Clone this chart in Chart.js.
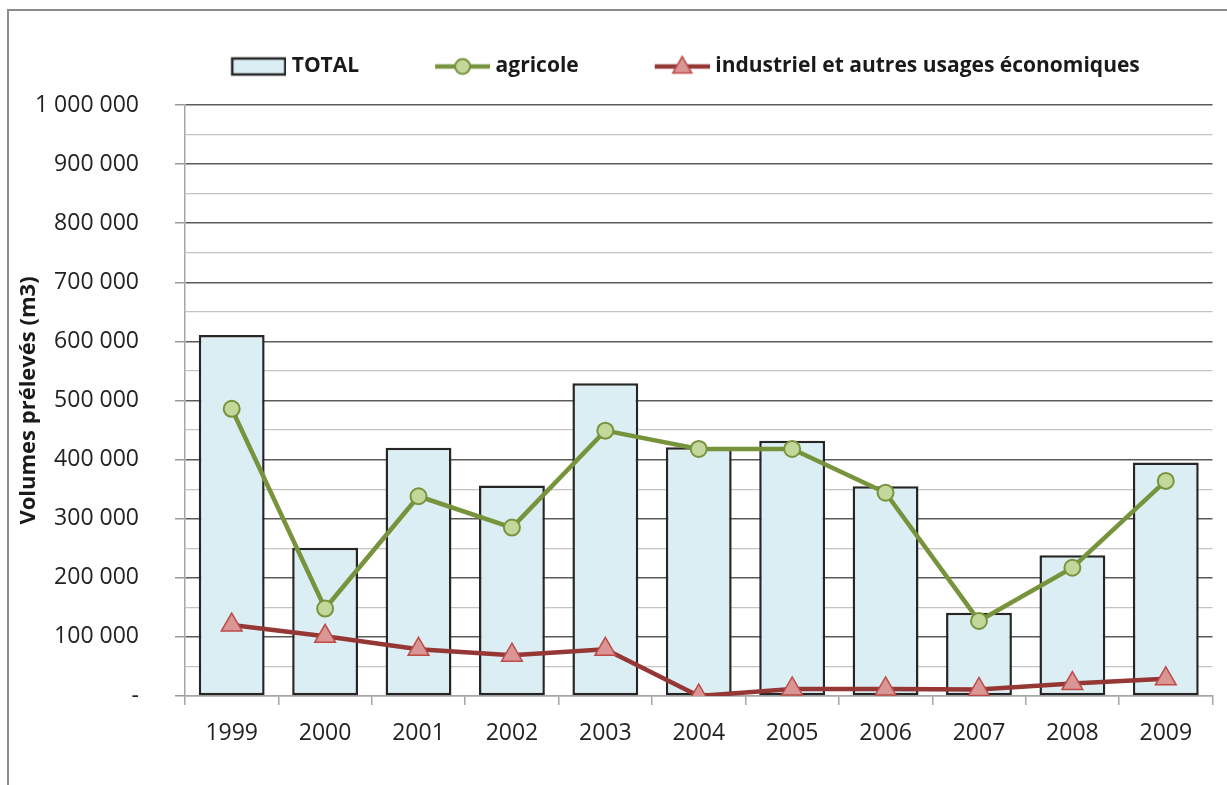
<!DOCTYPE html>
<html>
<head>
<meta charset="utf-8">
<script src="https://cdn.jsdelivr.net/npm/chart.js@4.4.1/dist/chart.umd.min.js"></script>
<style>
  html, body { margin: 0; padding: 0; background: #ffffff; overflow: hidden; width: 1227px; height: 785px; }
  #frame { position: absolute; left: 7px; top: 9px; width: 1400px; height: 900px;
           border-left: 2px solid #8c8c8c; border-top: 2px solid #8c8c8c; }
  #c { display: block; }
</style>
</head>
<body>
<div id="frame"><canvas id="c" width="1217" height="774"></canvas></div>
<script>
// ---- data ----
const categories = ['1999', '2000', '2001', '2002', '2003', '2004', '2005', '2006', '2007', '2008', '2009'];
const totalValues = [611000, 251000, 420000, 356000, 529000, 421000, 432000, 355000, 141000, 238000, 395000];
const agricoleValues = [486000, 148000, 338000, 285000, 449000, 418000, 418000, 344000, 127000, 217000, 364000];
const industrielValues = [120000, 101000, 79000, 69000, 79000, 0, 12000, 12000, 11000, 21000, 29000];
const seriesLabels = ['TOTAL', 'agricole', 'industriel et autres usages économiques'];
const yTickLabels = ['-', '100 000', '200 000', '300 000', '400 000', '500 000', '600 000', '700 000', '800 000', '900 000', '1 000 000'];
const yAxisTitle = 'Volumes prélevés (m3)';

// ---- styles ----
const FONT = "'Open Sans', 'Liberation Sans', sans-serif";
const barFill = '#dbeef4', barBorder = '#262626';
const agriLine = '#77933c', agriFill = '#c4d79b';
const indLine = '#953735', indFill = '#d99694', indBorder = '#be4b48';
const LEGEND_BOX_W = 116;
const LEGEND_SHIFT_X = 35;
const LEGEND_SHIFT_Y = -18;

function legendImage(kind) {
  const c = document.createElement('canvas');
  c.width = LEGEND_BOX_W + 10; c.height = 26;
  const g = c.getContext('2d');
  const x0 = c.width - 55, x1 = c.width, cy = 13, cx = (x0 + x1) / 2;
  if (kind === 'bar') {
    g.fillStyle = barFill; g.fillRect(x0 + 1, 5, 53, 16);
    g.strokeStyle = barBorder; g.lineWidth = 2.5; g.strokeRect(x0 + 1, 5, 53, 16);
  } else if (kind === 'agri') {
    g.strokeStyle = agriLine; g.lineWidth = 4.5;
    g.beginPath(); g.moveTo(x0, cy); g.lineTo(x1, cy); g.stroke();
    g.beginPath(); g.arc(cx, cy, 7.5, 0, Math.PI * 2);
    g.fillStyle = agriFill; g.fill(); g.lineWidth = 2; g.stroke();
  } else {
    g.strokeStyle = indLine; g.lineWidth = 4.5;
    g.beginPath(); g.moveTo(x0, cy); g.lineTo(x1, cy); g.stroke();
    const r = 11;
    g.beginPath();
    for (let k = 0; k < 3; k++) {
      const a = k * 2 * Math.PI / 3;
      const px = cx + Math.sin(a) * r, py = cy + 1 - Math.cos(a) * r;
      if (k === 0) g.moveTo(px, py); else g.lineTo(px, py);
    }
    g.closePath();
    g.fillStyle = indFill; g.fill(); g.strokeStyle = indBorder; g.lineWidth = 1.5; g.stroke();
  }
  return c;
}
const legendImages = [legendImage('bar'), legendImage('agri'), legendImage('ind')];

const legendShiftPlugin = {
  id: 'legendShift',
  afterLayout(chart) {
    const l = chart.legend;
    if (l) {
      l.left += LEGEND_SHIFT_X; l.right += LEGEND_SHIFT_X;
      l.top += LEGEND_SHIFT_Y; l.bottom += LEGEND_SHIFT_Y;
    }
  }
};

new Chart(document.getElementById('c'), {
  data: {
    labels: categories,
    datasets: [
      {
        type: 'bar', label: seriesLabels[0], data: totalValues, order: 3,
        backgroundColor: barFill, borderColor: barBorder, borderWidth: 2.5, borderSkipped: false,
        categoryPercentage: 1.0, barPercentage: 0.705
      },
      {
        type: 'line', label: seriesLabels[1], data: agricoleValues, order: 1,
        borderColor: agriLine, borderWidth: 4.5, tension: 0, fill: false,
        pointStyle: 'circle', pointRadius: 8, pointBackgroundColor: agriFill,
        pointBorderColor: agriLine, pointBorderWidth: 2
      },
      {
        type: 'line', label: seriesLabels[2], data: industrielValues, order: 2,
        borderColor: indLine, borderWidth: 4.5, tension: 0, fill: false,
        pointStyle: 'triangle', pointRadius: 12, pointBackgroundColor: indFill,
        pointBorderColor: indBorder, pointBorderWidth: 1.5
      }
    ]
  },
  options: {
    responsive: false,
    animation: false,
    layout: { padding: { top: 34, left: 0, right: 0, bottom: 0 } },
    plugins: {
      tooltip: { enabled: false },
      legend: {
        position: 'top',
        align: 'center',
        labels: {
          usePointStyle: true,
          pointStyleWidth: LEGEND_BOX_W,
          padding: 10,
          color: '#1a1a1a',
          font: { family: FONT, size: 21, weight: 'bold' },
          generateLabels(chart) {
            return chart.data.datasets.map((ds, i) => ({
              text: ds.label, datasetIndex: i, hidden: false,
              pointStyle: legendImages[i], fillStyle: 'transparent',
              strokeStyle: 'transparent', lineWidth: 0, fontColor: '#1a1a1a'
            }));
          }
        }
      }
    },
    scales: {
      x: {
        offset: true,
        grid: { offset: true, drawOnChartArea: false, drawTicks: true, tickLength: 9, tickColor: '#a6a6a6', lineWidth: 1.5 },
        border: { display: true, color: '#a6a6a6', width: 1.5 },
        ticks: { color: '#222', padding: 15, font: { family: FONT, size: 23 }, maxRotation: 0, autoSkip: false },
        afterFit(scale) { scale.height = 89; }
      },
      y: {
        min: 0, max: 1000000,
        title: { display: true, text: yAxisTitle, color: '#1a1a1a', font: { family: FONT, size: 22, weight: 'bold' }, padding: { top: 7, bottom: 0 } },
        ticks: {
          stepSize: 50000, autoSkip: false, padding: 36, color: '#222',
          font: { family: FONT, size: 23 },
          callback(v) { return v % 100000 === 0 ? yTickLabels[v / 100000] : ''; }
        },
        grid: {
          drawTicks: true, tickLength: 10,
          color(ctx) {
            const v = ctx.tick ? ctx.tick.value : 0;
            if (v === 0) return '#a6a6a6';
            return v % 100000 === 0 ? '#5a5a5a' : '#c4c4c4';
          },
          tickColor(ctx) {
            const v = ctx.tick ? ctx.tick.value : 0;
            return v % 100000 === 0 ? '#9a9a9a' : 'rgba(0,0,0,0)';
          },
          lineWidth(ctx) {
            const v = ctx.tick ? ctx.tick.value : 0;
            return v % 100000 === 0 ? 1.5 : 1.2;
          }
        },
        border: { display: true, color: '#a6a6a6', width: 1.5 },
        afterFit(scale) { scale.width = 176; scale.paddingTop = 94; }
      }
    }
  },
  plugins: [legendShiftPlugin]
});
</script>
</body>
</html>
